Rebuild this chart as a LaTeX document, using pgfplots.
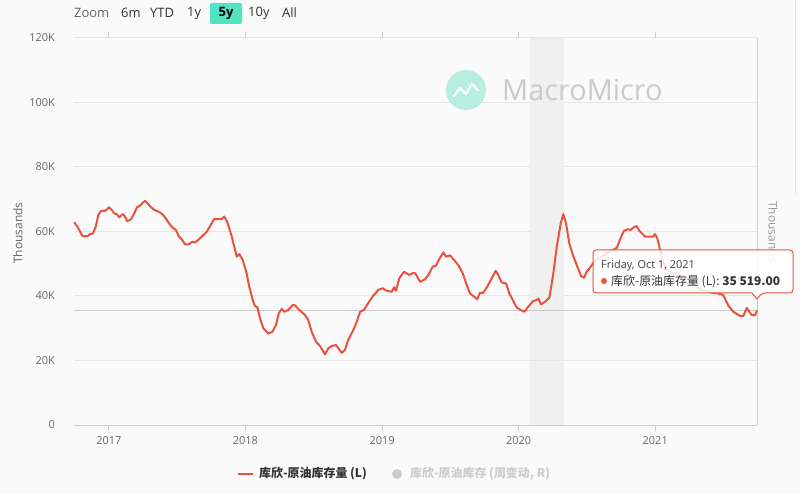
\documentclass[border=0pt]{standalone}
\usepackage{pgfplots}
\pgfplotsset{compat=1.18}
\usepackage{fontspec}
\setmainfont{Open Sans}
\newfontfamily\cjk{Noto Sans CJK SC}
\definecolor{bgcol}{HTML}{FAFAFA}
\definecolor{gridcol}{HTML}{E6E6E6}
\definecolor{bandcol}{HTML}{F0F0F0}
\definecolor{axiscol}{HTML}{CCCCCC}
\definecolor{linecol}{HTML}{E8523F}
\definecolor{tickcol}{HTML}{666666}
\definecolor{btncol}{HTML}{52E3C2}
\definecolor{logocol}{HTML}{B8EEDF}
\definecolor{wmcol}{HTML}{CACACA}
\begin{document}
\begin{tikzpicture}
\useasboundingbox (0,0) rectangle (800bp,494bp);
\fill[bgcol] (0,0) rectangle (800bp,494bp);
\begin{scope}[x=1bp,y=1bp]
% header zoom buttons
\node[anchor=west, inner sep=0pt, text=tickcol, font=\fontsize{13}{15}\selectfont] at (74,481) {Zoom};
\node[anchor=west, inner sep=0pt, text=black!80, font=\fontsize{13}{15}\selectfont] at (121,481) {6m};
\node[anchor=west, inner sep=0pt, text=black!80, font=\fontsize{13}{15}\selectfont] at (150,481) {YTD};
\node[anchor=west, inner sep=0pt, text=black!80, font=\fontsize{13}{15}\selectfont] at (187,481) {1y};
\fill[btncol, rounded corners=2bp] (210,470) rectangle (242,491);
\node[inner sep=0pt, text=black, font=\fontsize{13}{15}\selectfont\bfseries] at (226,481) {5y};
\node[anchor=west, inner sep=0pt, text=black!80, font=\fontsize{13}{15}\selectfont] at (248,481) {10y};
\node[anchor=west, inner sep=0pt, text=black!80, font=\fontsize{13}{15}\selectfont] at (282,481) {All};
% axis titles
\node[rotate=90, inner sep=0pt, text=tickcol, font=\fontsize{12}{14}\selectfont] at (18,261) {Thousands};
\node[rotate=-90, inner sep=0pt, text=black!40, font=\fontsize{12}{14}\selectfont] at (773,262) {Thousands};
\draw[gridcol, line width=0.8bp] (795,494) -- (795,300);
\end{scope}
\begin{axis}[
  at={(74bp,69bp)}, anchor=south west,
  width=683bp, height=387bp, scale only axis,
  xmin=2016.745, xmax=2021.745, ymin=0, ymax=120,
  clip=false,
  axis line style={draw=none},
  xtick={2017,2018,2019,2020,2021},
  xticklabels={2017,2018,2019,2020,2021},
  ytick={0,20,40,60,80,100,120},
  yticklabels={0,20K,40K,60K,80K,100K,120K},
  ymajorgrids, major grid style={draw=gridcol, line width=1bp},
  tick align=outside, major tick length=6bp,
  xtick style={draw=axiscol, line width=1bp},
  ytick style={draw=none},
  xticklabel style={font=\fontsize{11}{13}\selectfont, text=tickcol, inner sep=0pt, yshift=-5bp},
  yticklabel style={font=\fontsize{11}{13}\selectfont, text=tickcol, inner sep=0pt, xshift=-13bp},
]
\fill[bandcol] (axis cs:2020.083,0) rectangle (axis cs:2020.332,120);
\pgfplotsextra{\draw[gridcol, line width=1bp] (axis cs:2016.745,20) -- (axis cs:2021.745,20);}
\draw[axiscol, line width=1bp] (axis cs:2016.745,0) -- (axis cs:2021.745,0);
\draw[axiscol, line width=1bp] (axis cs:2021.745,0) -- (axis cs:2021.745,120);
\draw[axiscol, line width=1bp] (axis cs:2016.745,35.519) -- (axis cs:2021.745,35.519);
\addplot[color=linecol, line width=2bp, mark=none, line join=round] table {
x y
2016.747 62.9
2016.777 61.0
2016.806 58.6
2016.845 58.6
2016.862 59.2
2016.884 59.4
2016.904 61.5
2016.923 65.1
2016.943 66.4
2016.967 66.4
2016.984 66.7
2017.001 67.5
2017.021 66.7
2017.040 65.6
2017.058 65.4
2017.077 64.4
2017.099 65.4
2017.113 65.0
2017.135 63.2
2017.162 63.8
2017.186 65.6
2017.206 67.5
2017.228 68.0
2017.248 68.9
2017.265 69.5
2017.285 68.7
2017.309 67.5
2017.333 66.7
2017.367 66.1
2017.391 65.4
2017.416 64.1
2017.441 62.5
2017.465 61.3
2017.490 60.5
2017.514 58.4
2017.533 57.6
2017.558 56.0
2017.582 56.0
2017.611 56.8
2017.631 56.6
2017.655 57.4
2017.680 58.4
2017.716 59.9
2017.753 62.5
2017.772 63.9
2017.807 63.8
2017.826 63.9
2017.845 64.6
2017.867 63.0
2017.900 58.4
2017.936 52.2
2017.955 53.0
2017.980 51.2
2018.009 47.0
2018.028 42.9
2018.053 38.8
2018.070 36.9
2018.087 36.5
2018.107 33.1
2018.131 30.0
2018.167 28.4
2018.197 28.9
2018.224 31.0
2018.244 34.6
2018.266 36.0
2018.285 35.1
2018.314 35.7
2018.346 37.2
2018.363 37.1
2018.394 35.7
2018.436 34.1
2018.460 32.6
2018.485 28.9
2018.517 25.8
2018.546 24.5
2018.583 21.9
2018.607 23.8
2018.632 24.5
2018.663 24.8
2018.680 23.8
2018.705 22.4
2018.729 23.3
2018.753 26.4
2018.790 29.5
2018.815 32.0
2018.839 35.1
2018.868 35.7
2018.900 37.9
2018.936 40.1
2018.973 41.9
2019.005 42.4
2019.034 41.6
2019.071 41.3
2019.088 42.7
2019.102 41.6
2019.126 45.5
2019.161 47.5
2019.200 46.5
2019.229 47.2
2019.244 47.0
2019.278 44.4
2019.315 45.2
2019.339 46.5
2019.371 49.1
2019.395 49.4
2019.419 51.5
2019.449 53.5
2019.468 52.2
2019.498 52.6
2019.527 51.2
2019.558 49.6
2019.591 47.0
2019.620 43.4
2019.644 40.8
2019.668 40.0
2019.697 39.0
2019.717 41.0
2019.741 41.0
2019.771 42.9
2019.803 45.5
2019.832 47.8
2019.851 46.5
2019.876 44.2
2019.908 43.9
2019.932 40.8
2019.957 38.8
2019.986 36.4
2020.015 35.7
2020.042 35.1
2020.071 36.7
2020.103 38.3
2020.132 38.8
2020.145 39.2
2020.164 37.4
2020.193 38.2
2020.225 39.5
2020.254 47.0
2020.279 55.3
2020.308 62.5
2020.327 65.4
2020.347 62.5
2020.371 56.3
2020.400 52.4
2020.430 49.1
2020.457 46.2
2020.479 45.7
2020.498 47.5
2020.528 49.1
2020.552 50.6
2020.581 51.5
2020.618 52.5
2020.654 53.5
2020.691 54.3
2020.720 55.0
2020.742 57.5
2020.757 59.0
2020.771 60.2
2020.796 60.7
2020.820 60.5
2020.839 61.2
2020.864 61.7
2020.883 60.2
2020.908 59.2
2020.925 58.4
2020.962 58.4
2020.986 58.4
2020.998 59.2
2021.015 57.9
2021.035 54.3
2021.057 50.5
2021.086 48.0
2021.123 47.0
2021.167 46.5
2021.211 46.0
2021.255 45.0
2021.291 43.0
2021.328 42.0
2021.372 41.5
2021.416 41.0
2021.460 40.8
2021.498 40.3
2021.535 37.0
2021.572 35.1
2021.621 33.8
2021.645 33.8
2021.670 36.3
2021.706 34.1
2021.730 34.0
2021.745 35.519
};
\end{axis}
\begin{scope}[x=1bp,y=1bp]
% watermark
\fill[logocol] (466,404) circle (20);
\draw[white, line width=2.2bp, line join=round, line cap=round] (454,398) -- (460,406) -- (466,400) -- (472,410) -- (478,404);
\node[anchor=west, inner sep=0pt, text=wmcol, font=\fontsize{29}{31}\selectfont] at (502,404) {MacroMicro};
% tooltip
\draw[linecol, line width=1bp, fill=white, fill opacity=0.85, rounded corners=3bp]
  (593,244) -- (793,244) -- (793,201) -- (762,201) [sharp corners] -- (757,195) -- (752,201) [rounded corners=3bp] -- (593,201) -- cycle;
\node[anchor=base west, inner sep=0pt, text=black!75, font=\fontsize{11}{13}\selectfont] at (601,226) {Friday, Oct 1, 2021};
\fill[linecol] (604,213) circle (3);
\node[anchor=base west, inner sep=0pt, text=black!80, font=\fontsize{12}{14}\selectfont] at (611,209) {\cjk 库欣-原油库存量 (L): \textbf{35 519.00}};
% legend
\draw[linecol, line width=2bp] (238,20) -- (253,20);
\node[anchor=west, inner sep=0pt, text=black!80, font=\fontsize{12}{14}\selectfont] at (259,20) {\cjk\bfseries 库欣-原油库存量 (L)};
\fill[axiscol] (397,20) circle (5);
\node[anchor=west, inner sep=0pt, text=axiscol, font=\fontsize{12}{14}\selectfont] at (410,20) {\cjk\bfseries 库欣-原油库存 (周变动, R)};
\end{scope}
\end{tikzpicture}
\end{document}
